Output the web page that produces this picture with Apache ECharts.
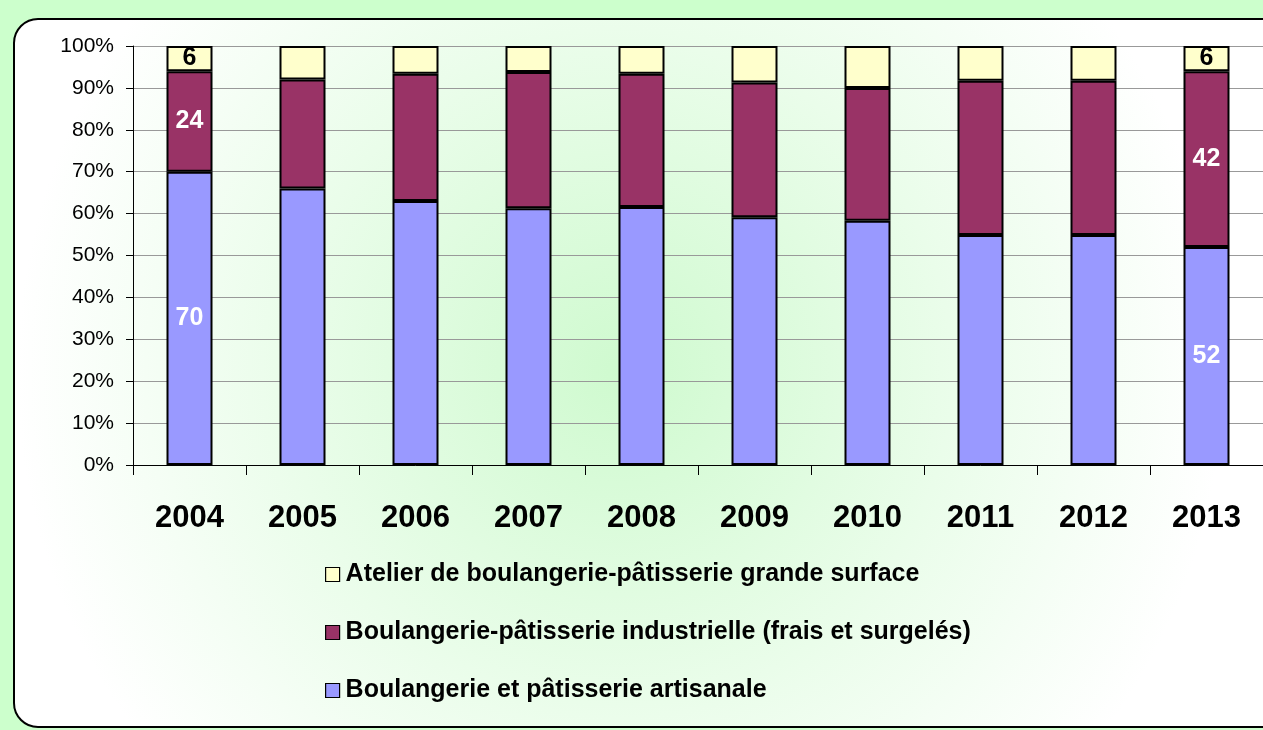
<!DOCTYPE html>
<html>
<head>
<meta charset="utf-8">
<title>Boulangerie-pâtisserie 2004-2013</title>
<script src="https://cdn.jsdelivr.net/npm/echarts@6/dist/echarts.min.js"></script>
<style>
  html, body { margin: 0; padding: 0; background: #ccffcc; }
  #chart { width: 1263px; height: 730px; }
</style>
</head>
<body>
<div id="chart"></div>
<script>
// donnees (parts en %)
var years = ['2004', '2005', '2006', '2007', '2008', '2009', '2010', '2011', '2012', '2013'];
var artisanale   = [70, 66, 63, 61.3, 61.6, 59.1, 58.3, 54.9, 54.9, 52];
var industrielle = [24, 26, 30.4, 32.5, 31.8, 32.2, 31.7, 36.8, 36.8, 42];
var atelier      = [6, 8, 6.6, 6.2, 6.6, 8.7, 10, 8.3, 8.3, 6];
var yTicks = [0, 10, 20, 30, 40, 50, 60, 70, 80, 90, 100];
var labelled = [0, 9]; // seules la premiere et la derniere barre ont des valeurs

var names = [
  'Atelier de boulangerie-pâtisserie grande surface',
  'Boulangerie-pâtisserie industrielle (frais et surgelés)',
  'Boulangerie et pâtisserie artisanale'
];

function withLabels(arr) {
  return arr.map(function (v, i) {
    return { value: v, label: { show: labelled.indexOf(i) >= 0 } };
  });
}

function barSerie(name, arr, color, labelColor) {
  return {
    name: name,
    type: 'bar',
    stack: 'total',
    barWidth: 46,
    data: withLabels(arr),
    itemStyle: { color: color, borderColor: '#000', borderWidth: 2 },
    label: {
      position: 'inside',
      color: labelColor,
      fontFamily: '"Liberation Sans", Arial, sans-serif',
      fontWeight: 'bold',
      fontSize: 25,
      formatter: function (p) { return Math.round(p.value); }
    }
  };
}

var chart = echarts.init(document.getElementById('chart'));
var option = {
  animation: false,
  backgroundColor: '#ccffcc',
  textStyle: { fontFamily: '"Liberation Sans", Arial, sans-serif' },
  graphic: {
    elements: [{
      type: 'rect',
      z: -10,
      shape: { x: 14, y: 19, width: 1290, height: 708, r: 24 },
      style: {
        fill: new echarts.graphic.RadialGradient(0.47, 0.5, 0.85, [
          { offset: 0, color: '#cffacf' },
          { offset: 0.55, color: '#eafdea' },
          { offset: 1, color: '#ffffff' }
        ]),
        stroke: '#000',
        lineWidth: 2
      }
    }]
  },
  grid: { left: 133, top: 46, width: 1142, height: 419, containLabel: false },
  legend: {
    orient: 'vertical',
    left: 325,
    top: 562,
    padding: 0,
    itemWidth: 14,
    itemHeight: 14,
    itemGap: 33,
    icon: 'rect',
    data: names,
    itemStyle: { borderColor: '#000', borderWidth: 1.2 },
    textStyle: { fontSize: 25, lineHeight: 25, fontWeight: 'bold', color: '#000', padding: [0, 0, 0, 1] }
  },
  xAxis: {
    type: 'category',
    data: years,
    axisLine: { lineStyle: { color: '#000', width: 1 } },
    axisTick: { show: true, length: 10, lineStyle: { color: '#000' } },
    axisLabel: { color: '#000', fontSize: 31, fontWeight: 'bold', margin: 38 }
  },
  yAxis: {
    type: 'value',
    min: yTicks[0],
    max: yTicks[yTicks.length - 1],
    interval: 10,
    axisLine: { show: true, lineStyle: { color: '#000', width: 1 } },
    axisTick: { show: true, length: 7, lineStyle: { color: '#000' } },
    axisLabel: { color: '#000', fontSize: 21, margin: 19, formatter: '{value}%' },
    splitLine: { lineStyle: { color: '#999', width: 1 } }
  },
  series: [
    barSerie(names[2], artisanale, '#9999ff', '#fff'),
    barSerie(names[1], industrielle, '#993366', '#fff'),
    barSerie(names[0], atelier, '#ffffcc', '#000')
  ]
};
chart.setOption(option);
</script>
</body>
</html>
